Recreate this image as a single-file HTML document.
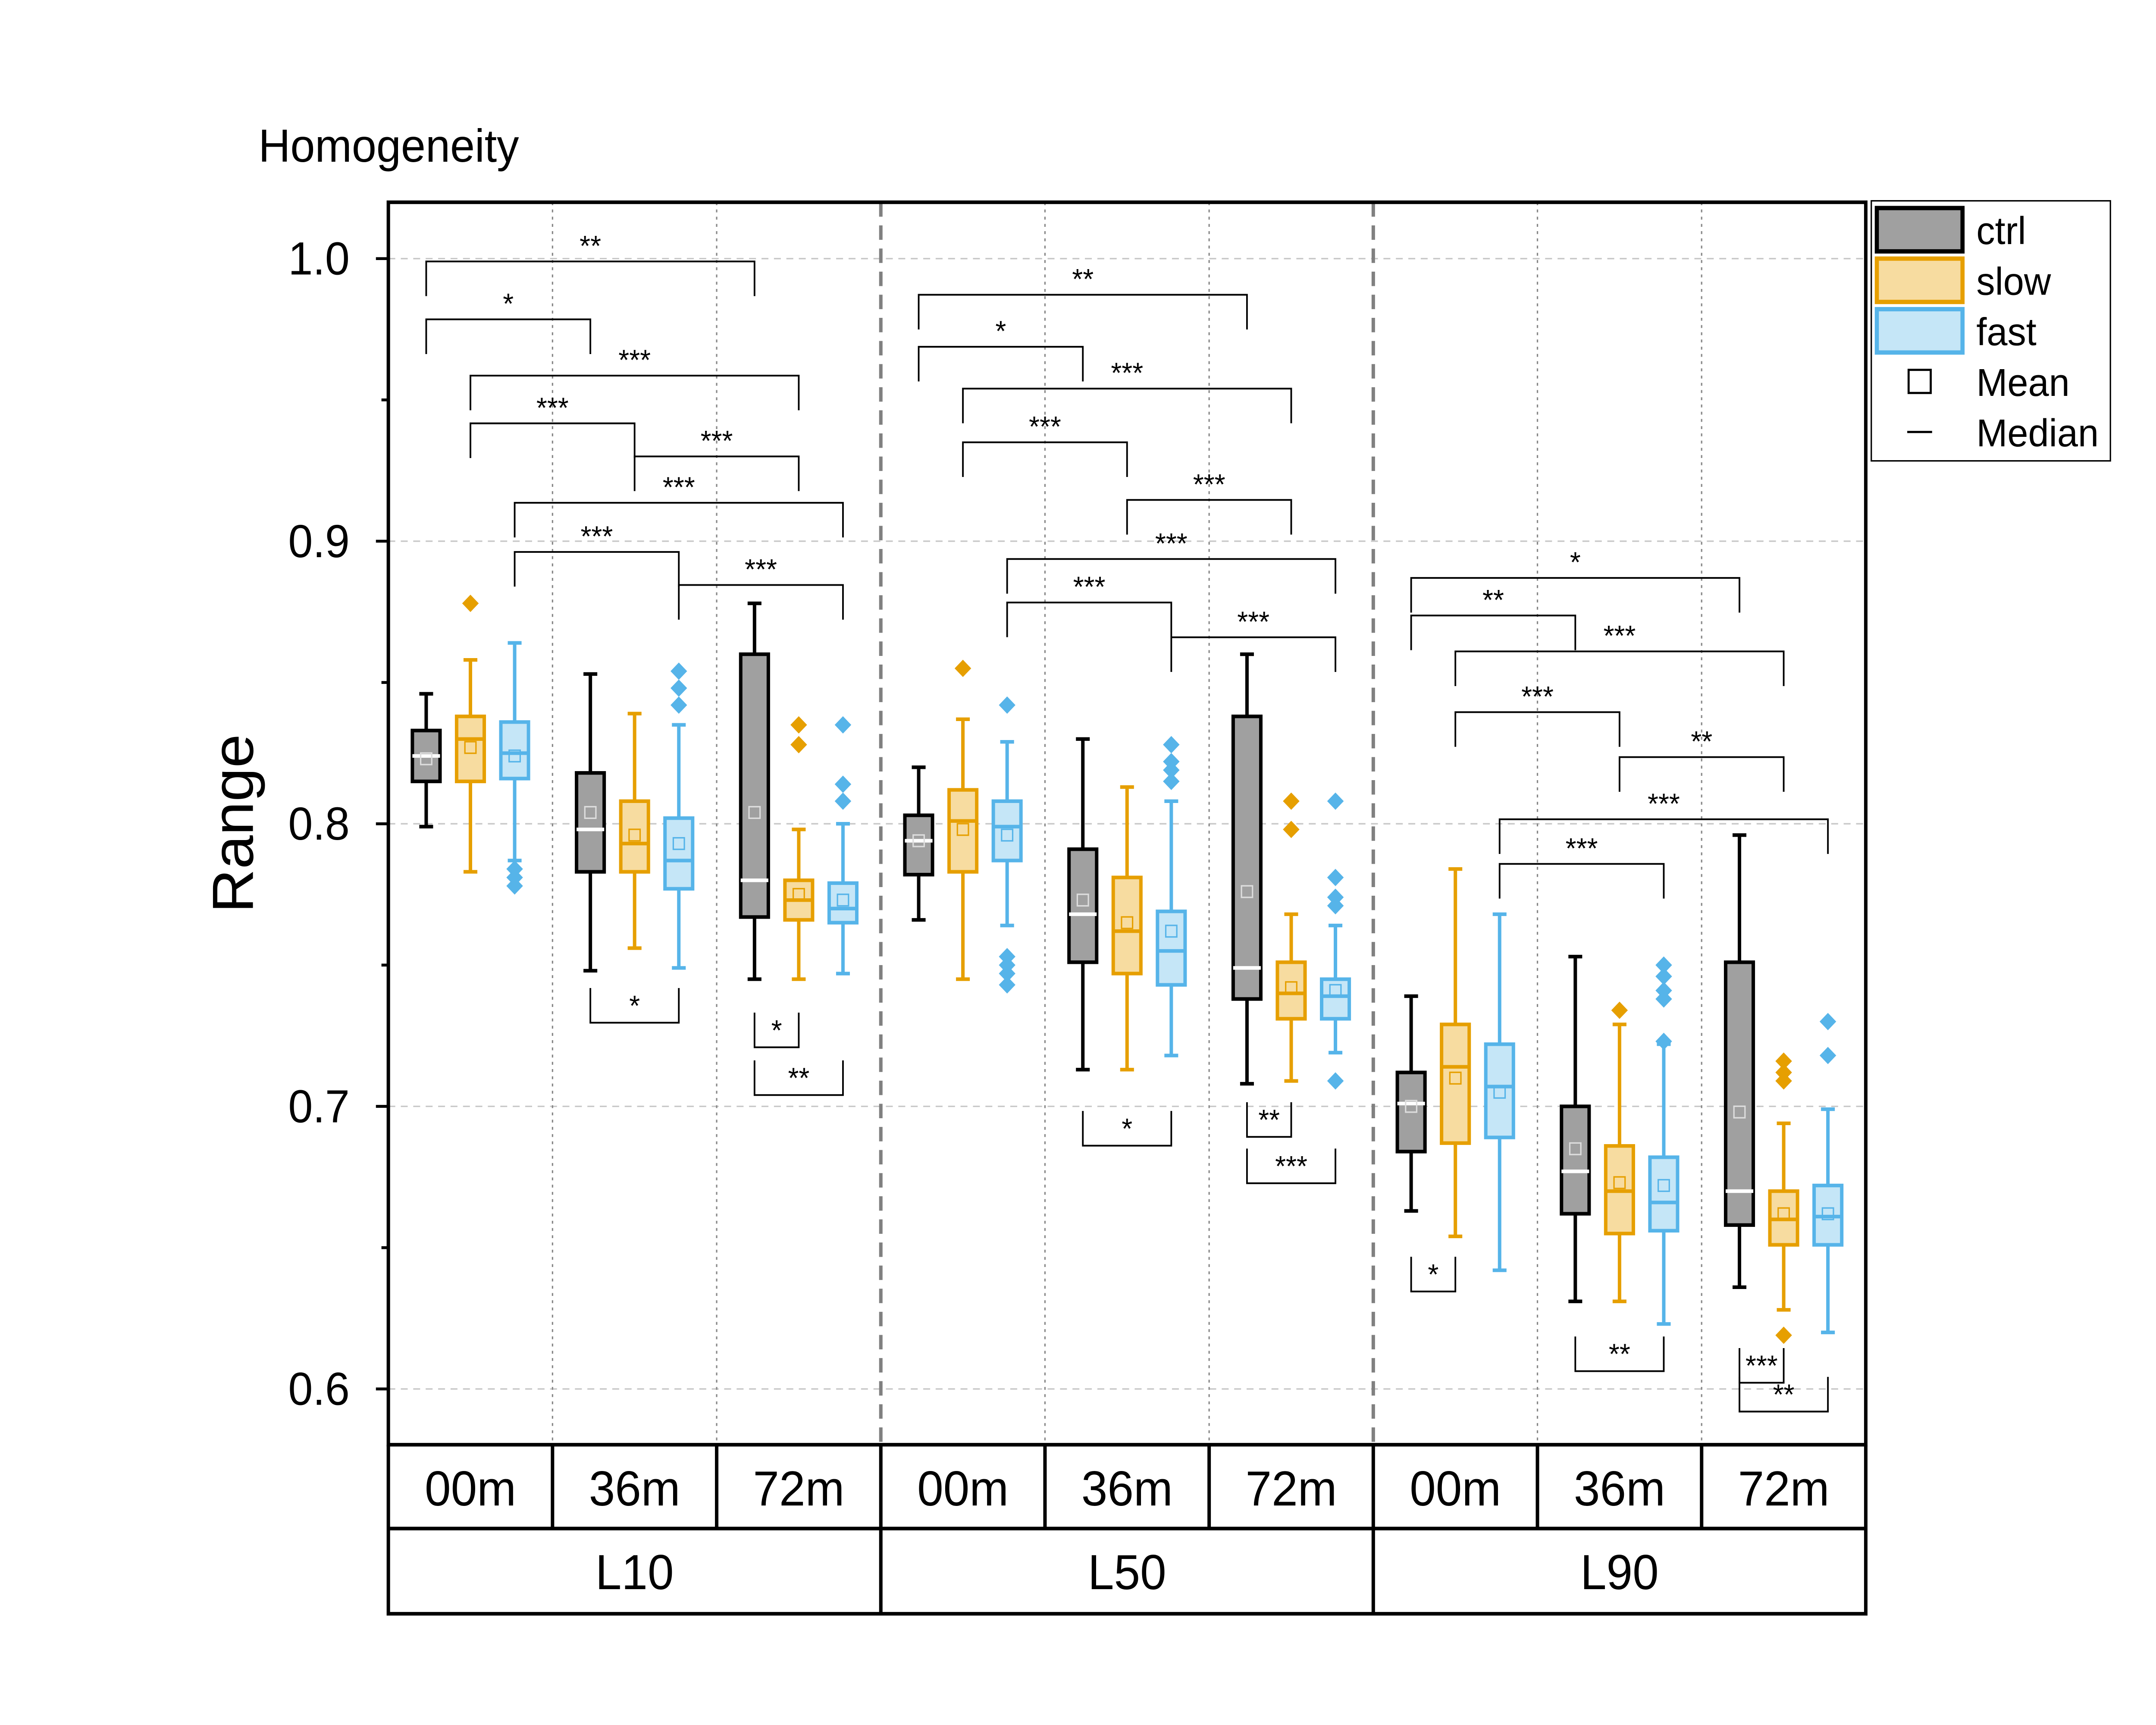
<!DOCTYPE html>
<html><head><meta charset="utf-8"><style>
html,body{margin:0;padding:0;background:#fff;overflow:hidden;width:100%;height:100%;}
svg{display:block;position:fixed;left:0;top:0;width:100vw;height:100vh;font-family:"Liberation Sans",Arial,sans-serif;}
</style></head><body>
<svg id="chart" viewBox="0 0 1560 1194" preserveAspectRatio="none" xmlns="http://www.w3.org/2000/svg">
<rect x="0" y="0" width="1560" height="1194" fill="#fff"/>
<text x="187" y="112" font-size="32">Homogeneity</text>
<text x="0" y="0" font-size="42" text-anchor="middle" transform="translate(183,570) rotate(-90)">Range</text>
<g id="grid"></g><g id="marks"></g><g id="ann"></g><g id="axes"></g>
<g>
<rect x="1354" y="139" width="173" height="180" fill="#fff" stroke="#000" stroke-width="1"/>
<rect x="1358" y="144" width="62" height="30" fill="#a0a0a0" stroke="#000" stroke-width="3"/>
<text x="1430" y="169" font-size="27">ctrl</text>
<rect x="1358" y="179" width="62" height="30" fill="#f7dca0" stroke="#e69f00" stroke-width="3"/>
<text x="1430" y="204" font-size="27">slow</text>
<rect x="1358" y="214" width="62" height="30" fill="#c5e6f7" stroke="#56b4e9" stroke-width="3"/>
<text x="1430" y="239" font-size="27">fast</text>
<rect x="1381" y="256" width="16" height="16" fill="none" stroke="#000" stroke-width="1.5"/>
<text x="1430" y="274" font-size="27">Mean</text>
<line x1="1380" x2="1398" y1="299" y2="299" stroke="#000" stroke-width="1.5"/>
<text x="1430" y="309" font-size="27">Median</text>
</g>
</svg>
<script>
const times=["00m","36m","72m","00m","36m","72m","00m","36m","72m"];
const levels=["L10","L50","L90"];
const seriesNames=["ctrl","slow","fast"];
// per group: [whiskerLow,q1,median,q3,whiskerHigh,mean]
const ctrlStats=[[0.799,0.815,0.824,0.833,0.846,0.823],[0.748,0.783,0.798,0.818,0.853,0.804],[0.745,0.767,0.780,0.860,0.878,0.804],
[0.766,0.782,0.794,0.803,0.820,0.794],[0.713,0.751,0.768,0.791,0.830,0.773],[0.708,0.738,0.749,0.838,0.860,0.776],
[0.663,0.684,0.701,0.712,0.739,0.700],[0.631,0.662,0.677,0.700,0.753,0.685],[0.636,0.658,0.670,0.751,0.796,0.698]];
const slowStats=[[0.783,0.815,0.830,0.838,0.858,0.827],[0.756,0.783,0.793,0.808,0.839,0.796],[0.745,0.766,0.773,0.780,0.798,0.775],
[0.745,0.783,0.801,0.812,0.837,0.798],[0.713,0.747,0.762,0.781,0.813,0.765],[0.709,0.731,0.740,0.751,0.768,0.742],
[0.654,0.687,0.714,0.729,0.784,0.710],[0.631,0.655,0.670,0.686,0.729,0.673],[0.628,0.651,0.660,0.670,0.694,0.662]];
const fastStats=[[0.787,0.816,0.825,0.836,0.864,0.824],[0.749,0.777,0.787,0.802,0.835,0.793],[0.747,0.765,0.770,0.779,0.800,0.773],
[0.764,0.787,0.799,0.808,0.829,0.796],[0.718,0.743,0.755,0.769,0.808,0.762],[0.719,0.731,0.739,0.745,0.764,0.741],
[0.642,0.689,0.707,0.722,0.768,0.705],[0.623,0.656,0.666,0.682,0.722,0.672],[0.620,0.651,0.661,0.672,0.699,0.662]];
const slowOutliers=[[0.878],[],[0.835,0.828],[0.855],[],[0.808,0.798],[],[0.734],[0.716,0.712,0.709,0.619]];
const fastOutliers=[[0.784,0.781,0.778],[0.854,0.848,0.842],[0.835,0.814,0.808],[0.842,0.753,0.750,0.747,0.743],[0.828,0.822,0.819,0.815],[0.808,0.781,0.774,0.771,0.709],[],[0.750,0.746,0.741,0.738,0.723],[0.730,0.718]];
const yTicks=[0.6,0.7,0.8,0.9,1.0];
const yTickLabels=["0.6","0.7","0.8","0.9","1.0"];
const yMinorTicks=[0.65,0.75,0.85,0.95];
// brackets: [groupA, seriesA, groupB, seriesB, value, label, dir]
const brackets=[
[0,0,2,0,0.999,"**",1],[0,0,1,0,0.9785,"*",1],[0,1,2,1,0.9586,"***",1],[0,1,1,1,0.9417,"***",1],[1,1,2,1,0.930,"***",1],[0,2,2,2,0.9136,"***",1],[0,2,1,2,0.8962,"***",1],[1,2,2,2,0.8845,"***",1],
[1,0,1,2,0.7296,"*",-1],[2,0,2,1,0.7209,"*",-1],[2,0,2,2,0.704,"**",-1],
[3,0,5,0,0.9872,"**",1],[3,0,4,0,0.9688,"*",1],[3,1,5,1,0.954,"***",1],[3,1,4,1,0.935,"***",1],[4,1,5,1,0.9146,"***",1],[3,2,5,2,0.8937,"***",1],[3,2,4,2,0.8783,"***",1],[4,2,5,2,0.866,"***",1],
[4,0,4,2,0.6861,"*",-1],[5,0,5,1,0.6892,"**",-1],[5,0,5,2,0.6728,"***",-1],
[6,0,8,0,0.887,"*",1],[6,0,7,0,0.8737,"**",1],[6,1,8,1,0.861,"***",1],[6,1,7,1,0.8395,"***",1],[7,1,8,1,0.8236,"**",1],[6,2,8,2,0.8016,"***",1],[6,2,7,2,0.7858,"***",1],
[6,0,6,1,0.6345,"*",-1],[7,0,7,2,0.6063,"**",-1],[8,0,8,1,0.6022,"***",-1],[8,0,8,2,0.592,"**",-1]];

const NS="http://www.w3.org/2000/svg";
const L=281,R=1350,T=140,B=1000,GW=(R-L)/9;
const y=v=>179+(1.0-v)*1956;
const gx=g=>L+GW*(g+0.5);
const sx=(g,s)=>gx(g)+(s-1)*32;
function mk(p,tag,attrs){const e=document.createElementNS(NS,tag);for(const k in attrs)e.setAttribute(k,attrs[k]);p.appendChild(e);return e;}
const grid=document.getElementById('grid'),marks=document.getElementById('marks'),ann=document.getElementById('ann'),axes=document.getElementById('axes');
yTicks.forEach((v,i)=>{
 const l=mk(grid,'line',{x1:L,x2:R,y1:y(v),y2:y(v),stroke:'#c8c8c8','stroke-width':1,'stroke-dasharray':'5,4'});
 
 
 const t=mk(axes,'line',{x1:L-9,x2:L,y1:y(v),y2:y(v),stroke:'#000','stroke-width':2});
 
 
 const tx=mk(axes,'text',{x:L-28,y:y(v)+11,'font-size':32,'text-anchor':'end'});tx.textContent=yTickLabels[i];
 
 
});
yMinorTicks.forEach(v=>{const t=mk(axes,'line',{x1:L-5,x2:L,y1:y(v),y2:y(v),stroke:'#000','stroke-width':2});
 
 });
for(let g=1;g<9;g++){
 const x=L+GW*g;
 if(g%3===0){const l=mk(grid,'line',{x1:x,x2:x,y1:T,y2:B,stroke:'#808080','stroke-width':2.5,'stroke-dasharray':'10,6'});
  
  }
 else{const l=mk(grid,'line',{x1:x,x2:x,y1:T,y2:B,stroke:'#888','stroke-width':1,'stroke-dasharray':'2,3'});
  
  }
}
const styles=[{fill:'#a0a0a0',stroke:'#000',med:'#fff',mean:'#ddd'},{fill:'#f7dca0',stroke:'#e69f00',med:'#e69f00',mean:'#e69f00'},{fill:'#c5e6f7',stroke:'#56b4e9',med:'#56b4e9',mean:'#56b4e9'}];
const allStats=[ctrlStats,slowStats,fastStats],allOut=[[],slowOutliers,fastOutliers];
for(let s=0;s<3;s++)for(let g=0;g<9;g++){
 const d=allStats[s][g],st=styles[s],x=sx(g,s),w=20;
 const grp=mk(marks,'g',{});
 
 
 mk(grp,'line',{x1:x,x2:x,y1:y(d[0]),y2:y(d[4]),stroke:st.stroke,'stroke-width':2.5});
 mk(grp,'line',{x1:x-5,x2:x+5,y1:y(d[0]),y2:y(d[0]),stroke:st.stroke,'stroke-width':2.5});
 mk(grp,'line',{x1:x-5,x2:x+5,y1:y(d[4]),y2:y(d[4]),stroke:st.stroke,'stroke-width':2.5});
 mk(grp,'rect',{x:x-w/2,y:y(d[3]),width:w,height:y(d[1])-y(d[3]),fill:st.fill,stroke:st.stroke,'stroke-width':2.5});
 mk(grp,'line',{x1:x-w/2,x2:x+w/2,y1:y(d[2]),y2:y(d[2]),stroke:st.med,'stroke-width':2.5});
 mk(grp,'rect',{x:x-4,y:y(d[5])-4,width:8,height:8,fill:'none',stroke:st.mean,'stroke-width':1});
 (allOut[s][g]||[]).forEach(v=>{const p=mk(grp,'path',{d:`M${x},${y(v)-6}L${x+6},${y(v)}L${x},${y(v)+6}L${x-6},${y(v)}Z`,fill:st.stroke});
  
  });
}
brackets.forEach(b=>{
 const x1=sx(b[0],b[1]),x2=sx(b[2],b[3]),yy=y(b[4]),dir=b[6],leg=24*dir;
 const grp=mk(ann,'g',{});
 
 
 mk(grp,'path',{d:`M${x1},${yy+leg}L${x1},${yy}L${x2},${yy}L${x2},${yy+leg}`,fill:'none',stroke:'#000','stroke-width':1.2});
 const t=mk(grp,'text',{x:(x1+x2)/2,y:dir>0?yy-4:yy-5,'font-size':20,'text-anchor':'middle'});t.textContent=b[5];
});
const fr=mk(axes,'rect',{x:L,y:T,width:R-L,height:B-T,fill:'none',stroke:'#000','stroke-width':2.5});


const tb=mk(axes,'path',{d:`M${L},${B}L${L},1117L${R},1117L${R},${B}M${L},1058L${R},1058`,fill:'none',stroke:'#000','stroke-width':2.5});


for(let g=1;g<9;g++){const x=L+GW*g;mk(axes,'line',{x1:x,x2:x,y1:B,y2:g%3===0?1117:1058,stroke:'#000','stroke-width':2.5});}
times.forEach((t,g)=>{const e=mk(axes,'text',{x:gx(g),y:1042,'font-size':34,'text-anchor':'middle'});e.textContent=t;
 
 });
levels.forEach((t,i)=>{const e=mk(axes,'text',{x:gx(i*3+1),y:1100,'font-size':34,'text-anchor':'middle'});e.textContent=t;
 
 });
</script>
</body></html>
